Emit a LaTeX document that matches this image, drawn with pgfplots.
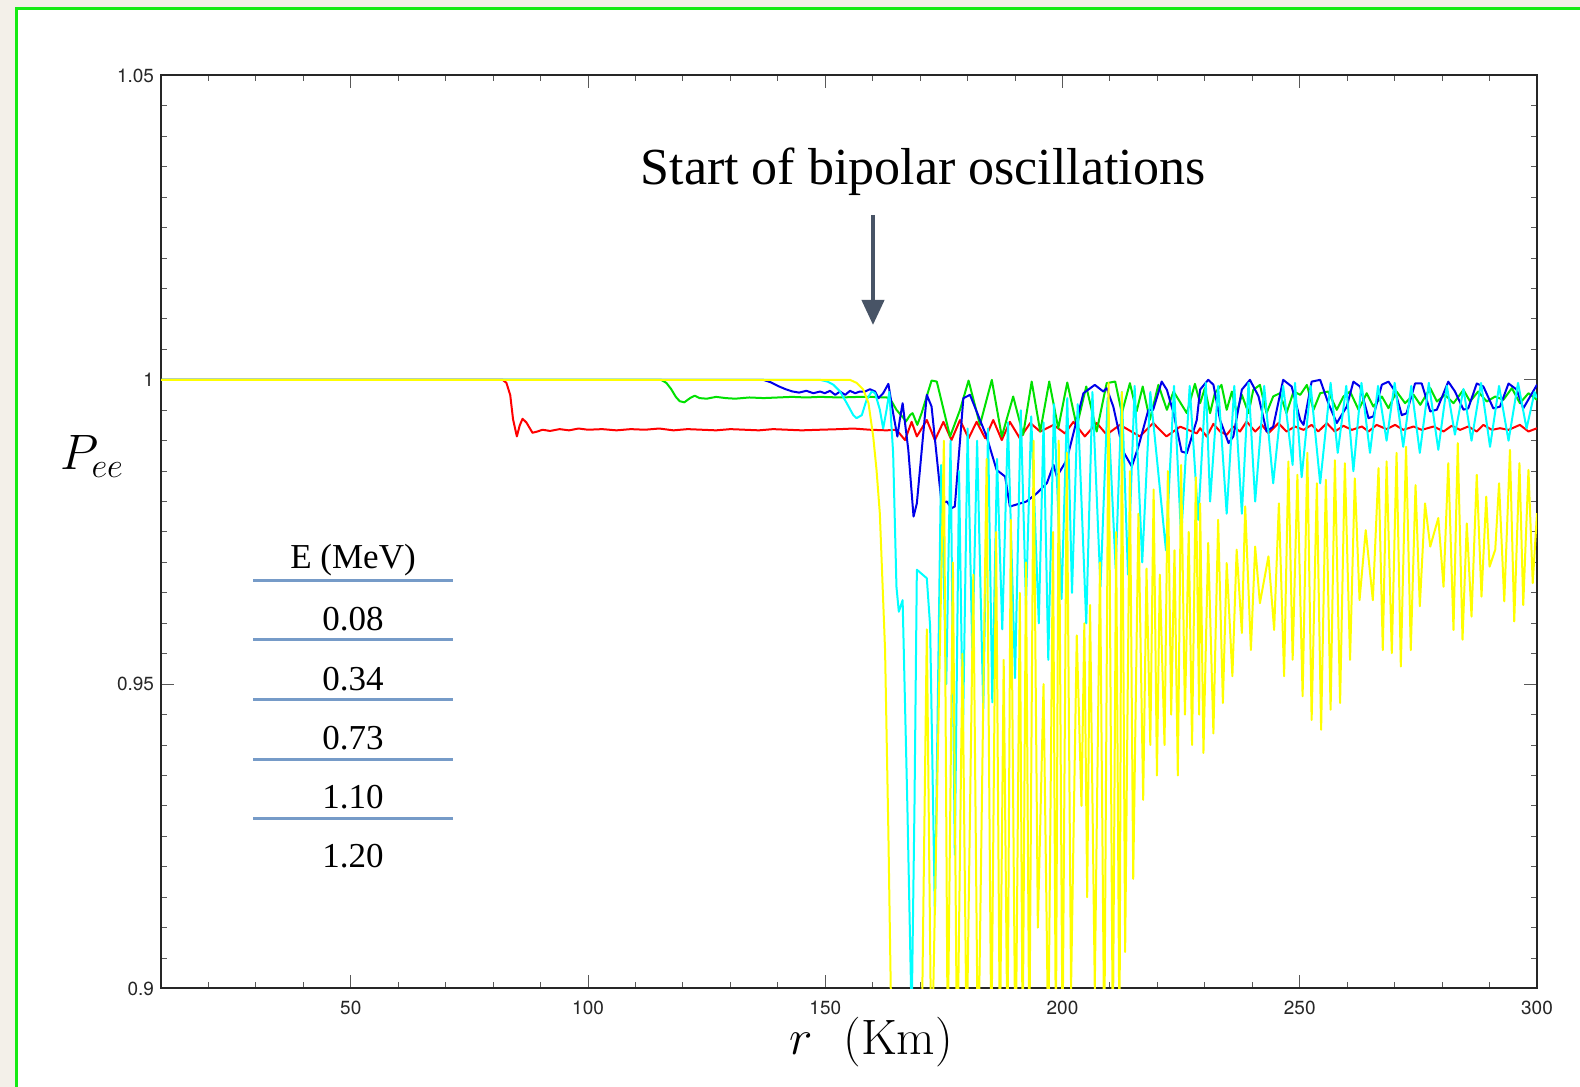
\documentclass[border=0pt]{standalone}
\usepackage[no-math]{fontspec}
\setmainfont{Liberation Serif}
\newfontfamily\heros{TeX Gyre Heros}
\usepackage{pgfplots}
\pgfplotsset{compat=1.18}
\usetikzlibrary{arrows.meta}

\definecolor{pagebg}{RGB}{243,240,233}
\definecolor{framegreen}{RGB}{20,235,20}
\definecolor{arrowgray}{RGB}{72,84,102}
\definecolor{rulebl}{RGB}{118,155,200}
\definecolor{cred}{RGB}{255,0,0}
\definecolor{cgreen}{RGB}{0,225,0}
\definecolor{cblue}{RGB}{0,0,235}
\definecolor{ccyan}{RGB}{0,255,255}
\definecolor{cyell}{RGB}{255,255,0}

\begin{document}
\begin{tikzpicture}[x=0.5pt,y=0.5pt]
\useasboundingbox (0,0) rectangle (1580,1087);
\fill[pagebg] (0,0) rectangle (1580,1087);
\fill[white] (16,0) rectangle (1580,1078);
\draw[framegreen, line width=1.5pt] (16,-5) -- (16,1078) -- (1590,1078);

\begin{axis}[
  at={(80.5pt,49.25pt)}, anchor=south west,
  width=688pt, height=456.5pt, scale only axis,
  xmin=10, xmax=300, ymin=0.9, ymax=1.05,
  xtick={50,100,...,300},
  minor xtick={20,30,...,290},
  ytick={0.9,0.95,1,1.05},
  yticklabels={0.9,0.95,1,1.05},
  minor y tick num=9,
  tick align=inside,
  major tick length=6.5pt, minor tick length=3pt,
  every tick/.style={black!65, line width=0.5pt},
  axis line style={black!85, line width=1pt},
  tick label style={font=\heros\fontsize{9.5}{11}\selectfont, text=black!85, inner sep=0pt},
  /pgf/number format/assume math mode=true,
  xticklabel style={yshift=-6pt},
  yticklabel style={xshift=-3.3pt},
  every axis plot/.append style={line width=1pt, line join=round},
]
% E = 0.08 MeV
\addplot[cred] coordinates {
(10,1.0) (82.0,1.0) (82.8,0.9995) (83.6,0.9975) (84.2,0.9935) (85.0,0.9907) (85.6,0.9925)
(86.2,0.9936) (87.0,0.9930) (88.3,0.9913) (89.3,0.9915) (90.4,0.9918) (92,0.9916) (94,0.9919)
(96,0.9917) (98,0.9920) (100,0.9918) (103,0.9919) (106,0.9917) (109,0.9919) (112,0.9918)
(115,0.9920) (118,0.9917) (121,0.9919) (124,0.9918) (127,0.9917) (130,0.9919) (133,0.9918)
(136,0.9917) (139,0.9919) (142,0.9918) (145,0.9917) (148.9,0.9918) (153.1,0.9919) (155.9,0.9920)
(159.4,0.9918) (162.9,0.9917) (165.0,0.9918)
(166.8,0.9901) (168.2,0.9931) (169.3,0.9907) (171.4,0.9934) (173.1,0.9901) (174.9,0.9931)
(176.6,0.9901) (178.4,0.9934) (180.2,0.9904) (181.9,0.9931) (183.7,0.9904) (185.4,0.9934)
(187.2,0.9901) (188.9,0.9931) (191.0,0.9904) (193.2,0.9929) (195.3,0.9915) (198.1,0.9926)
(200.5,0.9912) (202.3,0.9931) (204.7,0.9907) (207.2,0.9929) (209.3,0.9910) (212.1,0.9926)
(216.3,0.9907) (219.1,0.9929) (221.9,0.9907) (224.8,0.9923) (228.3,0.9912)
(229.0,0.99205) (230.4,0.99068) (231.8,0.99277) (233.2,0.99151) (234.6,0.99096) (236.0,0.99233)
(237.4,0.99151) (238.8,0.99315) (240.6,0.99151) (242.0,0.99260) (243.4,0.99123) (245.5,0.99288)
(247.2,0.99151) (249.0,0.99233) (250.8,0.99178) (252.5,0.99260) (253.9,0.99151) (255.7,0.99288)
(257.4,0.99151) (259.2,0.99244) (261.0,0.99178) (263.1,0.99233) (264.5,0.99151) (266.2,0.99260)
(268.3,0.99189) (270.1,0.99260) (271.8,0.99178) (274.0,0.99233) (275.7,0.99178) (278.2,0.99233)
(280.3,0.99151) (282.0,0.99244) (283.8,0.99178) (285.5,0.99233) (287.3,0.99151) (288.7,0.99260)
(290.5,0.99178) (292.2,0.99205) (294.0,0.99178) (296.4,0.99260) (298.2,0.99151) (300.0,0.99205)
};
% E = 0.34 MeV
\addplot[cgreen] coordinates {
(10,1.0) (115.4,1.0) (116.5,0.9995) (117.5,0.9985) (118.5,0.9972) (119.3,0.9965) (120.3,0.9963)
(121.5,0.9970) (122.5,0.9974) (123.5,0.9970) (125,0.9969) (127,0.9972) (129,0.9970) (131,0.9969)
(134,0.9971) (137,0.9970) (140,0.9971) (143,0.9972) (146,0.9971) (148.9,0.9972) (153.1,0.9971)
(157.3,0.9972) (159.4,0.9972) (163.0,0.9971)
(164.0,0.99644) (165.0,0.99507) (166.5,0.99370) (167.0,0.99315) (167.9,0.99424) (168.4,0.99452)
(169.4,0.99260) (170.3,0.99452) (172.4,0.99988) (173.5,0.99972) (176.3,0.99068) (178.4,0.99507)
(180.2,0.99988) (182.6,0.99260) (185.1,0.99999) (187.2,0.99068) (189.6,0.99726) (191.7,0.99096)
(193.5,0.99972) (195.3,0.99151) (197.2,0.99972) (199.1,0.99205) (201.0,0.99956) (203.0,0.99233)
(205.0,0.99890) (207.2,0.99151) (209.3,0.99945) (211.1,0.99972) (212.5,0.99452) (214.2,0.99945)
(215.6,0.99479) (216.9,0.99890) (218.4,0.99342) (220.2,0.99917) (222.0,0.99507) (223.4,0.99808)
(226.2,0.99452) (227.9,0.99934)
(229.0,0.99616) (230.0,0.99863) (231.1,0.99452) (232.1,0.99780) (233.5,0.99917) (234.6,0.99507)
(235.7,0.99808) (236.7,0.99452) (237.8,0.99753) (239.2,0.99452) (240.2,0.99835) (241.6,0.99917)
(243.0,0.99452) (244.4,0.99726) (245.8,0.99780) (247.2,0.99452) (248.7,0.99808) (250.1,0.99753)
(251.5,0.99917) (252.9,0.99507) (254.3,0.99780) (256.0,0.99808) (257.8,0.99507) (259.2,0.99726)
(260.6,0.99808) (262.4,0.99507) (264.1,0.99780) (265.5,0.99561) (267.3,0.99726) (268.7,0.99534)
(270.4,0.99808) (272.2,0.99616) (274.0,0.99753) (275.4,0.99589) (277.5,0.99863) (278.9,0.99644)
(280.6,0.99753) (282.4,0.99616) (284.5,0.99835) (285.9,0.99644) (287.6,0.99808) (289.4,0.99644)
(291.2,0.99726) (292.9,0.99671) (294.7,0.99863) (296.4,0.99616) (298.2,0.99780) (300.0,0.99671)
};
% E = 0.73 MeV
\addplot[cblue] coordinates {
(10,1.0) (136.9,1.0) (138.5,0.9996) (140,0.9990) (141.5,0.9985) (143,0.9981) (144.5,0.9979)
(146,0.9982) (147.5,0.9978)
(148.9,0.99808) (149.9,0.99780) (151.0,0.99819) (152.1,0.99753) (153.1,0.99808) (154.2,0.99753)
(155.2,0.99819) (156.3,0.99780) (157.3,0.99808) (158.4,0.99808) (159.4,0.99846) (160.5,0.99808)
(161.2,0.99698) (162.2,0.99780) (163.3,0.99934) (164.3,0.99452) (165.2,0.99068) (165.7,0.99342)
(166.3,0.99616) (167.5,0.98849) (168.6,0.97754) (169.3,0.97973) (171.4,0.99753) (172.4,0.99561)
(174.5,0.97973) (175.6,0.98001) (176.6,0.97891) (177.3,0.97918) (179.1,0.99698) (180.5,0.99753)
(182.6,0.99342) (184.0,0.99068) (186.1,0.98521) (187.9,0.98411) (188.9,0.97918) (192.4,0.98001)
(194.6,0.98137) (196.7,0.98302) (198.1,0.98603) (198.8,0.98411) (200.9,0.98685) (204.4,0.99780)
(206.8,0.99917) (208.6,0.99808) (209.3,0.99863) (210.7,0.99561) (212.8,0.98822) (214.6,0.98576)
(216.0,0.98904) (218.1,0.99507) (219.1,0.99507) (220.9,0.99972) (222.0,0.99835) (223.4,0.99452)
(225.1,0.98822) (226.2,0.98795) (228.3,0.99342)
(229.0,0.9984) (230.7,1.0000) (231.8,0.9992) (233.2,0.9934) (235.0,0.9896) (236.0,0.9907)
(237.8,0.9984) (239.5,1.0000) (241.3,0.9973) (243.0,0.9915) (244.4,0.9923) (246.5,1.0000)
(248.3,0.9989) (250.1,0.9934) (250.8,0.9926) (252.5,0.9997) (254.3,1.0000) (256.0,0.9962)
(257.8,0.9929) (259.9,0.9956) (261.3,0.9997) (262.7,0.9989) (264.5,0.9937) (265.5,0.9940)
(267.3,0.9992) (268.7,0.9997) (270.1,0.9981) (271.5,0.9942) (272.5,0.9945) (274.3,0.9994)
(275.7,0.9994) (277.5,0.9948) (278.9,0.9951) (281.3,0.9997) (282.7,0.9981) (284.5,0.9951)
(285.5,0.9953) (287.3,0.9994) (288.7,0.9989) (290.8,0.9953) (292.2,0.9956) (294.0,0.9994)
(295.7,0.9984) (297.1,0.9953) (300.0,0.9992)
};
% E = 1.10 MeV
\addplot[ccyan] coordinates {
(10,1.0) (148.9,1.0) (150.5,0.9997) (151.7,0.9992) (153.1,0.9981) (154.5,0.9962) (155.9,0.9942)
(156.6,0.9937) (157.7,0.9942) (158.7,0.9967) (159.8,0.9981) (160.5,0.9978) (161.5,0.9951)
(162.2,0.9920) (162.9,0.9950) (163.5,0.9980) (164.3,0.9880) (165.0,0.9660) (165.5,0.9619)
(166.3,0.9638) (167.3,0.930) (168.2,0.895) (168.8,0.930) (169.3,0.9688) (171.4,0.9674)
(172.1,0.9595) (173.1,0.9121) (174.4,0.986) (175.5,0.950) (176.4,0.990) (177.3,0.922)
(178.2,0.985) (179.0,0.941) (180.0,0.992) (181.0,0.955) (182.0,0.990) (183.3,0.946)
(184.3,0.992) (185.2,0.947) (186.2,0.987) (187.3,0.959) (188.5,0.993) (190.0,0.951)
(191.2,0.995) (192.3,0.963) (193.4,0.994) (195.0,0.960) (196.0,0.993) (197.0,0.954)
(198.2,0.996) (199.8,0.964) (201.0,0.997) (202.0,0.965) (203.2,0.996) (205.0,0.960)
(206.3,0.998) (208.0,0.966) (209.5,0.997) (211.2,0.969) (212.5,0.998) (213.8,0.968)
(215.2,0.999) (216.8,0.970) (218.5,0.998) (221.8,0.972) (223.5,0.999) (225.0,0.974)
(226.8,0.999) (228.6,0.977) (230.2,0.9995) (231.1,0.980) (232.8,0.999) (234.6,0.978)
(236.2,0.999) (237.8,0.978) (239.2,0.9995) (240.6,0.980) (242.5,0.999) (244.4,0.983)
(246.5,0.999) (248.5,0.986) (249.0,0.9995) (250.4,0.984) (252.3,0.999) (254.3,0.983)
(256.5,0.9995) (258.0,0.988) (259.8,0.999) (261.3,0.985) (263.0,0.9995) (264.8,0.988)
(266.5,0.999) (268.3,0.990) (270.0,0.9995) (271.8,0.989) (273.5,0.999) (275.3,0.988)
(277.2,0.9995) (279.2,0.9885) (281.0,0.999) (282.7,0.991) (284.5,0.9985) (286.2,0.990)
(288.2,0.9995) (290.1,0.989) (292.0,0.999) (294.0,0.990) (296.0,0.9995) (297.8,0.992)
(299.5,0.998) (300.0,0.997)
};
% E = 1.20 MeV
\addplot[cyell] coordinates {
(10,1.0) (155.2,1.0) (156.6,0.9995) (158.0,0.9984) (159.1,0.9962) (160.1,0.9907) (160.8,0.9852)
(161.5,0.9780) (162.6,0.9556) (163.3,0.9255) (163.8,0.900) (164.2,0.885) (167.0,0.870)
(170.3,0.890) (171.4,0.959) (172.4,0.885) (175.0,0.990) (175.8,0.890) (176.9,0.970)
(177.8,0.885) (178.9,0.955) (179.8,0.890) (181.2,0.968) (182.2,0.885) (184.0,0.987)
(185.0,0.890) (186.0,0.975) (186.8,0.890) (187.6,0.954) (188.4,0.890) (189.1,0.977)
(190.1,0.885) (191.0,0.965) (191.6,0.890) (192.3,0.970) (193.0,0.890) (193.9,0.990)
(194.8,0.910) (196.0,0.950) (197.0,0.890) (198.0,0.975) (198.6,0.890) (199.2,0.990)
(200.0,0.890) (200.9,0.988) (201.8,0.900) (203.0,0.958) (204.0,0.930) (204.6,0.960)
(205.2,0.915) (205.8,0.963) (206.8,0.900) (207.9,0.970) (208.8,0.890) (209.7,0.9995)
(210.6,0.890) (211.3,0.975) (212.0,0.890) (212.5,0.998) (213.2,0.906) (214.2,0.985)
(214.9,0.918) (216.0,0.978) (217.0,0.931) (217.7,0.969) (218.5,0.940) (219.2,0.982)
(219.9,0.935) (220.5,0.968) (221.5,0.940) (222.2,0.985) (222.9,0.945) (223.6,0.972)
(224.3,0.935) (225.0,0.986) (225.8,0.945) (226.6,0.975) (227.3,0.940) (228.1,0.984)
(228.8,0.945) (229.0,0.9797) (229.7,0.9387) (230.7,0.9732) (231.8,0.9419) (232.8,0.9770)
(233.8,0.9469) (234.6,0.9699) (235.8,0.9513) (236.7,0.9721) (237.8,0.9584) (238.5,0.9792)
(239.7,0.9556) (240.6,0.9726) (241.6,0.9633) (243.4,0.9710) (244.6,0.9589) (245.6,0.9797)
(246.7,0.9513) (247.6,0.9866) (248.5,0.9540) (249.5,0.9844) (250.6,0.9480) (251.6,0.9880)
(252.5,0.9441) (253.6,0.9830) (254.5,0.9425) (255.5,0.9836) (256.5,0.9458) (257.4,0.9868)
(258.5,0.9469) (259.5,0.9863) (260.6,0.9540) (261.6,0.9838) (262.6,0.9638) (263.9,0.9753)
(265.4,0.9638) (266.6,0.9855) (267.5,0.9556) (268.3,0.9866) (269.4,0.9551) (270.4,0.9880)
(271.3,0.9529) (272.4,0.9890) (273.4,0.9556) (274.4,0.9827) (275.3,0.9628) (276.4,0.9797)
(277.5,0.9726) (279.2,0.9773) (280.3,0.9660) (281.3,0.9863) (282.4,0.9589) (283.3,0.9896)
(284.3,0.9573) (285.2,0.9764) (286.2,0.9611) (287.3,0.9844) (288.3,0.9644) (289.3,0.9808)
(290.0,0.9693) (291.2,0.9721) (292.0,0.9830) (293.1,0.9636) (294.3,0.9885) (295.2,0.9603)
(296.3,0.9863) (297.1,0.9630) (298.2,0.9852) (299.1,0.9666) (300.0,0.9781)
};
\end{axis}

% annotation
\node[anchor=base, inner sep=0pt, font=\fontsize{26}{30}\selectfont] at (923,902.5) {Start of bipolar oscillations};
\draw[arrowgray, line width=2pt, -{Triangle[length=12.5pt,width=11pt]}] (873,872) -- (873,762);

% axis titles
\node[anchor=base, inner sep=0pt, font=\fontsize{25}{30}\selectfont] at (92,617.4) {$P_{ee}$};
\node[anchor=base, inner sep=0pt, font=\fontsize{23}{28}\selectfont] at (801,32) {$r$};
\node[anchor=base west, inner sep=0pt, font=\fontsize{23}{28}\selectfont] at (843,32) {$(\mathrm{Km})$};

% energy table
\foreach \yy in {580.7,640,700,759.3,819}
  \draw[rulebl, line width=1.5pt] (253,{1087-\yy}) -- (453,{1087-\yy});
\begin{scope}[every node/.style={anchor=base, inner sep=0pt, font=\fontsize{17.5}{21}\selectfont}]
\node at (353,518) {E (MeV)};
\node at (353,456) {0.08};
\node at (353,396.3) {0.34};
\node at (353,337) {0.73};
\node at (353,278) {1.10};
\node at (353,219) {1.20};
\end{scope}
\end{tikzpicture}
\end{document}
